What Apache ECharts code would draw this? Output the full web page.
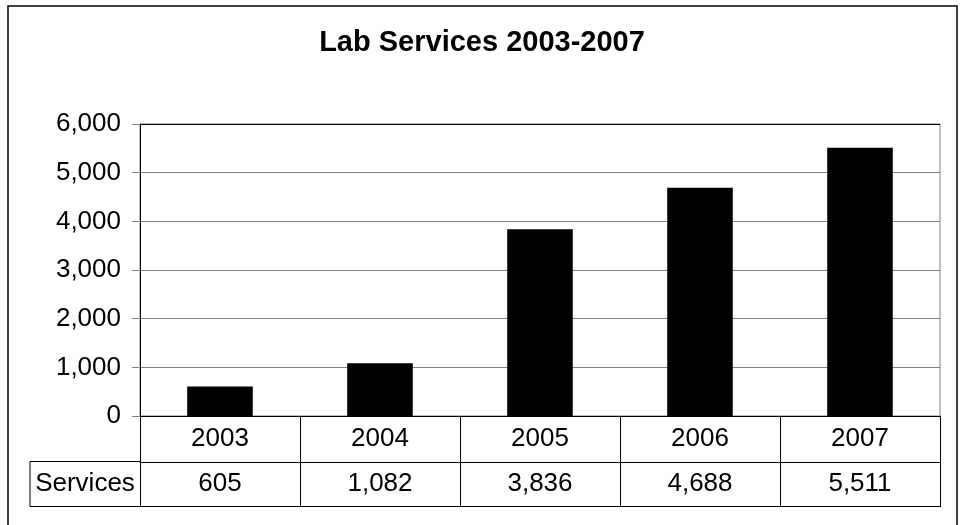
<!DOCTYPE html>
<html>
<head>
<meta charset="utf-8">
<script src="https://cdn.jsdelivr.net/npm/echarts@6/dist/echarts.min.js"></script>
<style>
html,body{margin:0;padding:0;background:#fff;}
#c{width:964px;height:525px;}
</style>
</head>
<body>
<div id="c"></div>
<script>
var titleText = 'Lab Services 2003-2007';
var categories = ['2003', '2004', '2005', '2006', '2007'];
var seriesName = 'Services';
var services = [605, 1082, 3836, 4688, 5511];
var yTicks = [0, 1000, 2000, 3000, 4000, 5000, 6000];

function fmt(v) { return v.toLocaleString('en-US'); }

var FONT = '"Liberation Sans", Arial, sans-serif';
var chart = echarts.init(document.getElementById('c'));
chart.setOption({
  backgroundColor: '#fff',
  animation: false,
  title: {
    text: titleText,
    left: 'center',
    top: 28,
    padding: 0,
    textStyle: { fontFamily: FONT, fontSize: 29, fontWeight: 'bold', color: '#000' }
  },
  grid: {
    left: 140, right: 24, top: 124, bottom: 109,
    show: true, borderColor: '#808080', borderWidth: 1, backgroundColor: '#fff'
  },
  xAxis: [{
    type: 'category',
    data: categories,
    position: 'bottom',
    boundaryGap: true,
    axisLine: { show: true, lineStyle: { color: '#000', width: 1 } },
    axisTick: { show: true, length: 46, lineStyle: { color: '#000' } },
    axisLabel: { margin: 10, fontFamily: FONT, fontSize: 26, color: '#000' },
    splitLine: { show: false }
  }, {
    type: 'category',
    data: services.map(fmt),
    position: 'bottom',
    offset: 46,
    boundaryGap: true,
    axisLine: { show: true, lineStyle: { color: '#000', width: 1 } },
    axisTick: { show: true, length: 45, lineStyle: { color: '#000' } },
    axisLabel: { margin: 9, fontFamily: FONT, fontSize: 26, color: '#000' },
    splitLine: { show: false }
  }],
  yAxis: {
    type: 'value',
    min: yTicks[0],
    max: yTicks[yTicks.length - 1],
    interval: 1000,
    axisLine: { show: true, lineStyle: { color: '#000', width: 1 } },
    axisTick: { show: true, length: 8, lineStyle: { color: '#808080' } },
    axisLabel: { margin: 19, padding: [0, 0, 4, 0], fontFamily: FONT, fontSize: 26, color: '#000', formatter: function (v) { return fmt(v); } },
    splitLine: { show: true, lineStyle: { color: ['#808080', '#808080', '#808080', '#808080', '#808080', '#808080', '#000'], width: 1 } }
  },
  series: [{
    name: seriesName,
    type: 'bar',
    xAxisIndex: 0,
    data: services,
    barWidth: '41%',
    itemStyle: { color: '#000' }
  }],
  graphic: [
    { type: 'rect', shape: { x: 8, y: 6, width: 949, height: 530 }, style: { fill: 'none', stroke: '#000', lineWidth: 1.5 }, silent: true },
    { type: 'polyline', shape: { points: [[140, 461.5], [30, 461.5], [30, 506.5], [940, 506.5]] }, style: { fill: 'none', stroke: '#000', lineWidth: 1 }, silent: true },
    { type: 'text', x: 85, y: 484, style: { text: seriesName, fontFamily: FONT, fontSize: 26, fill: '#000', align: 'center', verticalAlign: 'middle' }, silent: true }
  ]
});
</script>
</body>
</html>
